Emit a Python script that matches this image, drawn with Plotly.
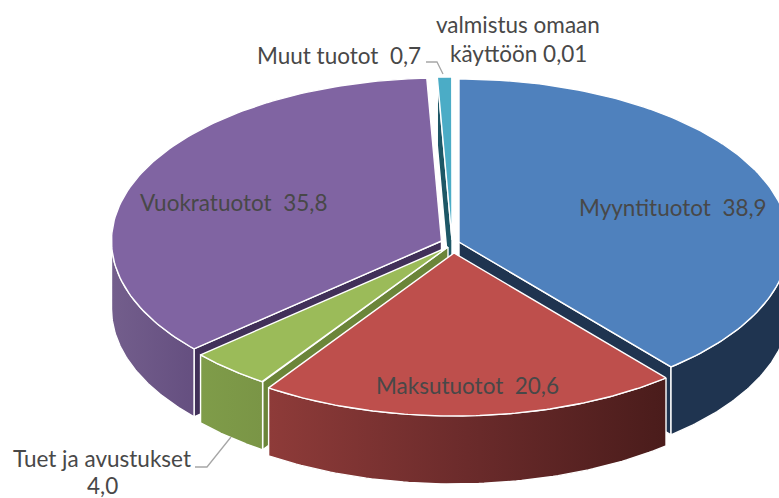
import numpy as np
import plotly.graph_objects as go

labels = ["Myyntituotot", "Maksutuotot", "Tuet ja avustukset", "Vuokratuotot", "Muut tuotot", "valmistus omaan käyttöön"]
values = [38.9, 20.6, 4.0, 35.8, 0.7, 0.01]
value_text = ["38,9", "20,6", "4,0", "35,8", "0,7", "0,01"]

top_colors = ["#4f81bd", "#be4f4c", "#9bbb59", "#8064a2", "#4bacc6", "#f79646"]
face_colors = ["#1f3450", "#4a1c1b", "#6b8539", "#413059", "#1d5766", "#b06a2c"]
wall_gradients = [
    ["#1f3450", "#1f3450"],
    ["#8e3b39", "#6b2b2b", "#4a1c1b"],
    ["#7f9c49", "#7a9546"],
    ["#735e8c", "#654f80"],
    ["#2e7f94", "#2e7f94"],
    ["#b06a2c", "#b06a2c"],
]
# exploded centres of the slices, on the 779x498 canvas
apex_x = [459, 454, 448, 441.5, 452, 458]
apex_y = [242, 253, 247, 241, 240, 240]
# which radial edge shows its side: 0 = first edge, 1 = last edge, None = neither
visible_face = [1, None, 0, 0, 0, None]
RX, RY, DEPTH = 330, 163, 68
draw_order = [4, 5, 3, 0, 2, 1]

fractions = np.array(values) / sum(values)
edges = np.concatenate([[0], np.cumsum(fractions)]) * 2 * np.pi


def rim(i, t):
    return apex_x[i] + RX * np.sin(t), apex_y[i] - RY * np.cos(t)


def poly(x, y, color=None, grad=None):
    kw = dict(x=list(x), y=list(y), mode="lines", fill="toself", hoverinfo="skip",
              showlegend=False, line=dict(color="#ffffff", width=1.4))
    if grad:
        n = len(grad) - 1
        kw["fillgradient"] = dict(type="horizontal",
                                  colorscale=[[k / n, c] for k, c in enumerate(grad)])
    else:
        kw["fillcolor"] = color
    return go.Scatter(**kw)


fig = go.Figure()
for i in draw_order:
    a, b = edges[i], edges[i + 1]
    # radial side face
    if visible_face[i] is not None:
        e = b if visible_face[i] == 1 else a
        ex, ey = rim(i, e)
        fig.add_trace(poly([apex_x[i], ex, ex, apex_x[i], apex_x[i]],
                           [apex_y[i], ey, ey + DEPTH, apex_y[i] + DEPTH, apex_y[i]],
                           color=face_colors[i]))
    # outer wall (lower half of the ellipse only)
    lo, hi = max(a, np.pi / 2), min(b, 3 * np.pi / 2)
    if hi > lo:
        t = np.linspace(lo, hi, 80)
        wx, wy = rim(i, t)
        fig.add_trace(poly(np.r_[wx, wx[::-1], wx[0]],
                           np.r_[wy, wy[::-1] + DEPTH, wy[0]],
                           grad=wall_gradients[i]))
    # top
    t = np.linspace(a, b, 120)
    tx, ty = rim(i, t)
    fig.add_trace(poly(np.r_[apex_x[i], tx, apex_x[i]], np.r_[apex_y[i], ty, apex_y[i]],
                       color=top_colors[i]))

# leader lines
fig.add_trace(go.Scatter(x=[426, 437, 443], y=[62, 62, 74], mode="lines", hoverinfo="skip",
                         showlegend=False, line=dict(color="#a6a6a6", width=1.3)))
fig.add_trace(go.Scatter(x=[195, 207, 231], y=[467, 467, 437], mode="lines", hoverinfo="skip",
                         showlegend=False, line=dict(color="#a6a6a6", width=1.3)))

# label placement: centre x, centre y per text line
label_lines = [
    [f"{labels[0]}  {value_text[0]}"],
    [f"{labels[1]}  {value_text[1]}"],
    [labels[2], value_text[2]],
    [f"{labels[3]}  {value_text[3]}"],
    [f"{labels[4]}  {value_text[4]}"],
    ["valmistus omaan", f"käyttöön {value_text[5]}"],
]
label_pos = [
    [(673, 207)],
    [(467, 385)],
    [(102, 458), (102, 485)],
    [(233, 202)],
    [(339, 55)],
    [(518, 24), (518, 53)],
]
for lines, pos in zip(label_lines, label_pos):
    for s, (x, y) in zip(lines, pos):
        fig.add_annotation(x=x, y=y, text=s, showarrow=False, xanchor="center", yanchor="middle",
                           font=dict(family="Lato", size=22.5, color="#484848"))

fig.update_layout(
    width=779, height=498, margin=dict(l=0, r=0, t=0, b=0),
    paper_bgcolor="#ffffff", plot_bgcolor="#ffffff", showlegend=False,
    xaxis=dict(range=[0, 779], visible=False, fixedrange=True),
    yaxis=dict(range=[498, 0], visible=False, fixedrange=True),
)
fig.write_html("out.html", config={"displayModeBar": False},
               post_script="document.body.style.margin='0';document.documentElement.style.overflow='hidden';")
